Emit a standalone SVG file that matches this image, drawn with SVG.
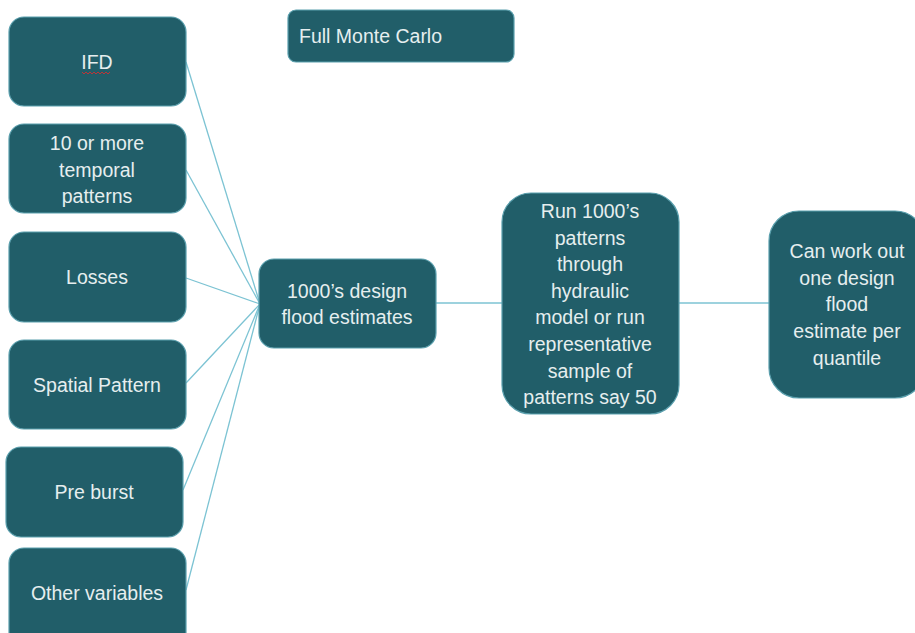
<svg xmlns="http://www.w3.org/2000/svg" width="915" height="633" viewBox="0 0 915 633">
<style>
.box{fill:#215E69;stroke:#5A9FAD;stroke-width:1.2}
.t{font-family:"Liberation Sans",Arial,sans-serif;font-size:19.5px;fill:#E6EEEF;text-anchor:middle}
.c{stroke:#7CC3D3;stroke-width:1.3;fill:none}
</style>
<rect width="915" height="633" fill="#FFFFFF"/>
<g id="connectors">
<line class="c" x1="186" y1="62" x2="260" y2="304"/>
<line class="c" x1="186" y1="170" x2="260" y2="304"/>
<line class="c" x1="186" y1="278" x2="260" y2="304"/>
<line class="c" x1="186" y1="383" x2="260" y2="304"/>
<line class="c" x1="183" y1="490" x2="260" y2="304"/>
<line class="c" x1="186" y1="590" x2="260" y2="304"/>
<line class="c" x1="436" y1="303" x2="502" y2="303"/>
<line class="c" x1="679" y1="303" x2="769" y2="303"/>
</g>
<g id="ifd">
<rect class="box" x="9" y="17" width="177" height="89" rx="15"/>
<text class="t" x="97" y="69">IFD</text>
<path d="M82,72 l2,2 l2,-2 l2,2 l2,-2 l2,2 l2,-2 l2,2 l2,-2 l2,2 l2,-2 l2,2 l2,-2 l2,2 l2,-2" fill="none" stroke="#D03030" stroke-width="0.9"/>
</g>
<g id="temporal">
<rect class="box" x="9" y="124" width="177" height="89" rx="15"/>
<text class="t" x="97" y="150">10 or more</text>
<text class="t" x="97" y="177">temporal</text>
<text class="t" x="97" y="203">patterns</text>
</g>
<g id="losses">
<rect class="box" x="9" y="232" width="177" height="90" rx="15"/>
<text class="t" x="97" y="284">Losses</text>
</g>
<g id="spatial">
<rect class="box" x="9" y="340" width="177" height="89" rx="15"/>
<text class="t" x="97" y="392">Spatial Pattern</text>
</g>
<g id="preburst">
<rect class="box" x="6" y="447" width="177" height="90" rx="15"/>
<text class="t" x="94" y="499">Pre burst</text>
</g>
<g id="other">
<rect class="box" x="9" y="548" width="177" height="100" rx="15"/>
<text class="t" x="97" y="600">Other variables</text>
</g>
<g id="title">
<rect class="box" x="288" y="10" width="226" height="52" rx="8"/>
<text class="t" x="299" y="43" style="text-anchor:start">Full Monte Carlo</text>
</g>
<g id="estimates">
<rect class="box" x="259" y="259" width="177" height="89" rx="15"/>
<text class="t" x="347" y="298">1000’s design</text>
<text class="t" x="347" y="324">flood estimates</text>
</g>
<g id="run">
<rect class="box" x="502" y="193" width="177" height="221" rx="29"/>
<text class="t" x="590" y="218">Run 1000’s</text>
<text class="t" x="590" y="245">patterns</text>
<text class="t" x="590" y="271">through</text>
<text class="t" x="590" y="298">hydraulic</text>
<text class="t" x="590" y="324">model or run</text>
<text class="t" x="590" y="351">representative</text>
<text class="t" x="590" y="378">sample of</text>
<text class="t" x="590" y="404">patterns say 50</text>
</g>
<g id="result">
<rect class="box" x="769" y="211" width="156" height="187" rx="30"/>
<text class="t" x="847" y="258">Can work out</text>
<text class="t" x="847" y="285">one design</text>
<text class="t" x="847" y="311">flood</text>
<text class="t" x="847" y="338">estimate per</text>
<text class="t" x="847" y="365">quantile</text>
</g>
</svg>
